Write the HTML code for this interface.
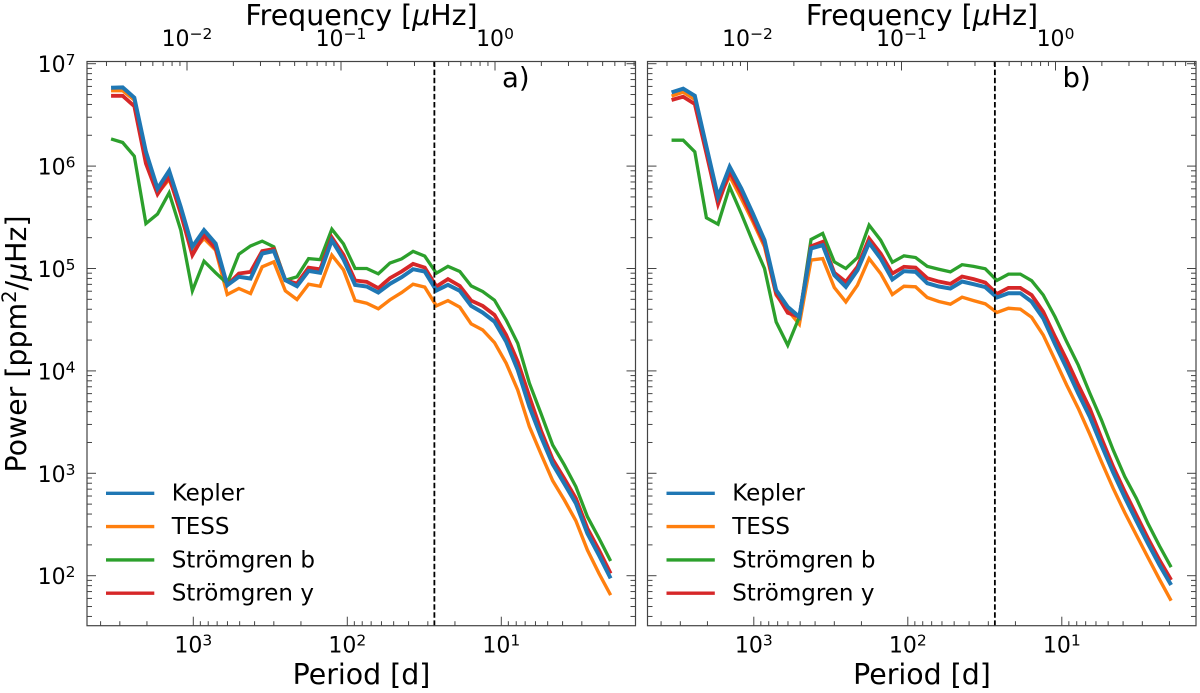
<!DOCTYPE html>
<html lang="en">
<head>
<meta charset="utf-8">
<title>Power spectra</title>
<style>
html,body{margin:0;padding:0;background:#fff;}
svg{display:block;}
text{font-family:"DejaVu Sans","Liberation Sans",sans-serif;fill:#000;}
</style>
</head>
<body>
<svg id="chart" xmlns="http://www.w3.org/2000/svg" width="1200" height="693" viewBox="0 0 1200 693"></svg>
<script>
// Period grid in days
const periods = [3420,2875,2416,2031,1707,1435,1206,1014,852,716,602,506,425,357,300,252.5,212.2,178.4,150,126,105.9,89.0,74.8,62.9,52.9,44.4,37.4,31.4,26.4,22.2,18.6,15.7,13.2,11.07,9.3,7.82,6.57,5.53,4.64,3.9,3.28,2.76,2.32,1.95];

// Panel a) power in ppm^2/uHz
const keplerA = [5.82e6,5.87e6,4.66e6,1.38e6,6.03e5,9.0e5,3.98e5,1.63e5,2.37e5,1.75e5,6.87e4,8.30e4,7.98e4,1.40e5,1.48e5,7.69e4,6.71e4,9.48e4,9.08e4,1.89e5,1.23e5,6.92e4,6.67e4,5.82e4,7.08e4,8.22e4,9.84e4,9.33e4,6.10e4,6.92e4,6.05e4,4.32e4,3.71e4,3.03e4,1.93e4,1.02e4,4.47e3,2.29e3,1.23e3,794,509,259,158,94.2];
const tessA = [5.45e6,5.45e6,4.42e6,1.23e6,5.41e5,7.41e5,3.72e5,1.46e5,1.96e5,1.51e5,5.57e4,6.38e4,5.70e4,1.04e5,1.16e5,6.05e4,4.98e4,7.03e4,6.71e4,1.35e5,9.70e4,4.86e4,4.58e4,4.04e4,4.94e4,5.82e4,7.03e4,6.58e4,4.32e4,4.86e4,4.19e4,2.88e4,2.51e4,1.89e4,1.19e4,6.50e3,2.85e3,1.55e3,847,550,344,178,105,64.6];
const stromgrenBA = [1.84e6,1.70e6,1.25e6,2.75e5,3.40e5,5.48e5,2.37e5,6.05e4,1.18e5,9.08e4,7.13e4,1.38e5,1.66e5,1.85e5,1.63e5,7.69e4,8.30e4,1.25e5,1.22e5,2.42e5,1.74e5,1.00e5,1.00e5,8.87e4,1.13e5,1.24e5,1.47e5,1.32e5,9.00e4,1.05e5,9.35e4,6.76e4,5.96e4,4.90e4,3.14e4,1.86e4,7.59e3,3.85e3,1.89e3,1.21e3,741,377,232,139];
const stromgrenYA = [4.86e6,4.86e6,3.85e6,1.06e6,5.32e5,7.87e5,3.44e5,1.35e5,2.12e5,1.57e5,6.87e4,8.93e4,9.27e4,1.48e5,1.55e5,7.69e4,7.13e4,1.02e5,9.84e4,2.01e5,1.36e5,7.64e4,7.41e4,6.43e4,8.05e4,9.35e4,1.11e5,1.02e5,6.67e4,7.87e4,6.76e4,4.86e4,4.31e4,3.52e4,2.24e4,1.23e4,5.60e3,2.63e3,1.37e3,891,570,290,178,105];

// Panel b) power in ppm^2/uHz
const keplerB = [5.25e6,5.70e6,4.86e6,1.55e6,5.01e5,9.84e5,6.05e5,3.44e5,1.89e5,6.14e4,4.22e4,3.37e4,1.57e5,1.69e5,8.61e4,6.62e4,9.64e4,1.78e5,1.25e5,7.82e4,9.42e4,9.27e4,7.19e4,6.67e4,6.38e4,7.46e4,7.03e4,6.58e4,5.21e4,5.74e4,5.74e4,4.74e4,3.26e4,1.83e4,1.06e4,6.03e3,3.55e3,1.89e3,1.02e3,582,344,207,127,81.1];
const tessB = [4.83e6,5.28e6,4.48e6,1.43e6,4.66e5,7.98e5,4.83e5,2.86e5,1.63e5,5.50e4,3.92e4,2.86e4,1.21e5,1.25e5,6.52e4,4.72e4,6.87e4,1.25e5,8.93e4,5.57e4,6.71e4,6.62e4,5.21e4,4.76e4,4.48e4,5.25e4,4.86e4,4.52e4,3.72e4,4.09e4,4.01e4,3.34e4,2.24e4,1.28e4,7.28e3,4.31e3,2.40e3,1.30e3,713,413,249,151,92.0,57.0];
const stromgrenBB = [1.79e6,1.79e6,1.38e6,3.13e5,2.71e5,6.28e5,3.44e5,1.82e5,1.00e5,3.01e4,1.78e4,3.37e4,1.92e5,2.20e5,1.16e5,1.00e5,1.28e5,2.65e5,1.89e5,1.15e5,1.33e5,1.28e5,1.05e5,9.84e4,9.27e4,1.09e5,1.05e5,9.93e4,7.64e4,8.81e4,8.81e4,7.60e4,5.51e4,3.38e4,1.93e4,1.14e4,6.03e3,3.32e3,1.69e3,927,570,324,195,121];
const stromgrenYB = [4.42e6,4.76e6,4.04e6,1.33e6,4.26e5,8.81e5,5.41e5,3.08e5,1.75e5,5.70e4,3.69e4,3.37e4,1.65e5,1.82e5,9.08e4,7.41e4,1.04e5,1.96e5,1.40e5,8.93e4,1.04e5,1.02e5,8.05e4,7.46e4,7.08e4,8.36e4,7.87e4,7.29e4,5.65e4,6.47e4,6.47e4,5.51e4,3.78e4,2.16e4,1.28e4,7.28e3,4.27e3,2.20e3,1.16e3,662,392,232,142,90.8];

// Axis ticks
const yTickExponents = [2,3,4,5,6,7];
const yMinorDecades = [1,2,3,4,5,6];
const periodTickExponents = [3,2,1];
const periodMinorDecades = [0,1,2,3];
const freqTickExponents = [-2,-1,0];
const freqMinorDecades = [-3,-2,-1,0];
const minorMultiples = [2,3,4,5,6,7,8,9];
const markerPeriod = 27.2;

const seriesNames = ['Kepler','TESS','Strömgren b','Strömgren y'];
const seriesColors = ['#1f77b4','#ff7f0e','#2ca02c','#d62728'];
const seriesWidths = [4,3.4,3.3,3.8];
const drawOrder = [1,2,3,0];

const PLOT_W = 548.5, PLOT_TOP = 61.5, PLOT_BOTTOM = 625.7;
const svg = document.getElementById('chart');
const NS = 'http://www.w3.org/2000/svg';

function xPeriod(p, left){ return left + 106.3 + (3 - Math.log10(p)) * 154; }
function xFreq(f, left){ return left + 100 + (Math.log10(f) + 2) * 154; }
function yPower(v){ return 575.7 - (Math.log10(v) - 2) * 102.4; }

function make(tag, parent, attrs){
  const el = document.createElementNS(NS, tag);
  for (const k in attrs) el.setAttribute(k, attrs[k]);
  parent.appendChild(el);
  return el;
}
function tickLine(parent, x1, y1, x2, y2){
  const t = make('line', parent, {x1:x1, y1:y1, x2:x2, y2:y2, stroke:'#444', 'stroke-width':1});
  
  
  return t;
}
function powerLabel(parent, exp, x, y, anchor){
  const t = make('text', parent, {x:x, y:y, 'font-size':22, 'text-anchor':anchor});
  
  
  const a = make('tspan', t, {});
  a.textContent = '10';
  const b = make('tspan', t, {dy:-7, 'font-size':15.5});
  b.textContent = String(exp).replace('-', '\u2212');
}

function drawPanel(left, letter, labelY, data){
  const right = left + PLOT_W;
  const g = make('g', svg, {});
  
  

  // y ticks on both sides
  yTickExponents.forEach(function(e){
    const y = yPower(Math.pow(10, e));
    tickLine(g, left, y, left + 9, y);
    tickLine(g, right, y, right - 9, y);
    if (labelY) powerLabel(g, e, 75.5, y + 8.5, 'end');
  });
  yMinorDecades.forEach(function(d){
    minorMultiples.forEach(function(m){
      const v = m * Math.pow(10, d);
      const y = yPower(v);
      if (y < PLOT_TOP || y > PLOT_BOTTOM) return;
      tickLine(g, left, y, left + 5, y);
      tickLine(g, right, y, right - 5, y);
    });
  });

  // bottom axis: period
  periodTickExponents.forEach(function(e){
    const x = xPeriod(Math.pow(10, e), left);
    tickLine(g, x, PLOT_BOTTOM, x, PLOT_BOTTOM - 9);
    powerLabel(g, e, x, 652.7, 'middle');
  });
  periodMinorDecades.forEach(function(d){
    minorMultiples.forEach(function(m){
      const x = xPeriod(m * Math.pow(10, d), left);
      if (x < left || x > right) return;
      tickLine(g, x, PLOT_BOTTOM, x, PLOT_BOTTOM - 4.5);
    });
  });

  // top axis: frequency
  freqTickExponents.forEach(function(e){
    const x = xFreq(Math.pow(10, e), left);
    tickLine(g, x, PLOT_TOP, x, PLOT_TOP + 9);
    powerLabel(g, e, x, 46, 'middle');
  });
  freqMinorDecades.forEach(function(d){
    minorMultiples.forEach(function(m){
      const x = xFreq(m * Math.pow(10, d), left);
      if (x < left || x > right) return;
      tickLine(g, x, PLOT_TOP, x, PLOT_TOP + 4.5);
    });
  });

  // series lines
  drawOrder.forEach(function(idx){
    const pts = data[idx].map(function(v, i){
      return xPeriod(periods[i], left).toFixed(2) + ',' + yPower(v).toFixed(2);
    }).join(' ');
    const line = make('polyline', g, {points:pts, fill:'none', stroke:seriesColors[idx], 'stroke-width':seriesWidths[idx], 'stroke-linejoin':'miter', 'stroke-linecap':'butt'});
    
    
  });

  // vertical reference line
  const mx = xPeriod(markerPeriod, left);
  const dash = make('line', g, {x1:mx, y1:PLOT_TOP, x2:mx, y2:PLOT_BOTTOM, stroke:'#000', 'stroke-width':1.8, 'stroke-dasharray':'5.5 2.6'});
  
  

  // frame
  const frame = make('rect', g, {x:left, y:PLOT_TOP, width:PLOT_W, height:PLOT_BOTTOM - PLOT_TOP, fill:'none', stroke:'#444', 'stroke-width':1.2});
  
  

  // panel letter
  const pl = make('text', g, {x:left + 415, y:87, 'font-size':27.5});
  
  
  pl.textContent = letter + ')';

  // axis titles
  const xt = make('text', g, {x:left + 274.5, y:684, 'font-size':28.4, 'text-anchor':'middle'});
  
  
  xt.textContent = 'Period [d]';

  const tt = make('text', g, {x:left + 274.5, y:25, 'font-size':28.4, 'text-anchor':'middle'});
  
  
  const t1 = make('tspan', tt, {});
  t1.textContent = 'Frequency [';
  const t2 = make('tspan', tt, {'font-style':'italic'});
  t2.textContent = 'µ';
  const t3 = make('tspan', tt, {});
  t3.textContent = 'Hz]';

  // legend
  const lg = make('g', g, {});
  
  
  seriesNames.forEach(function(name, i){
    const y = 493.3 + i * 33.3;
    const sw = make('line', lg, {x1:left + 19, y1:y, x2:left + 67.3, y2:y, stroke:seriesColors[i], 'stroke-width':3.4});
    
    
    const lt = make('text', lg, {x:left + 84.7, y:y + 7.4, 'font-size':23});
    
    
    lt.textContent = name;
  });
}

drawPanel(87, 'a', true, [keplerA, tessA, stromgrenBA, stromgrenYA]);
drawPanel(647.5, 'b', false, [keplerB, tessB, stromgrenBB, stromgrenYB]);

// y axis title
const yTitle = make('text', svg, {transform:'translate(26 344) rotate(-90)', 'font-size':28.4, 'text-anchor':'middle'});


const y1 = make('tspan', yTitle, {});
y1.textContent = 'Power [ppm';
const y2 = make('tspan', yTitle, {dy:-10, 'font-size':19.5});
y2.textContent = '2';
const y3 = make('tspan', yTitle, {dy:10});
y3.textContent = '/';
const y4 = make('tspan', yTitle, {'font-style':'italic'});
y4.textContent = 'µ';
const y5 = make('tspan', yTitle, {});
y5.textContent = 'Hz]';
</script>
</body>
</html>
